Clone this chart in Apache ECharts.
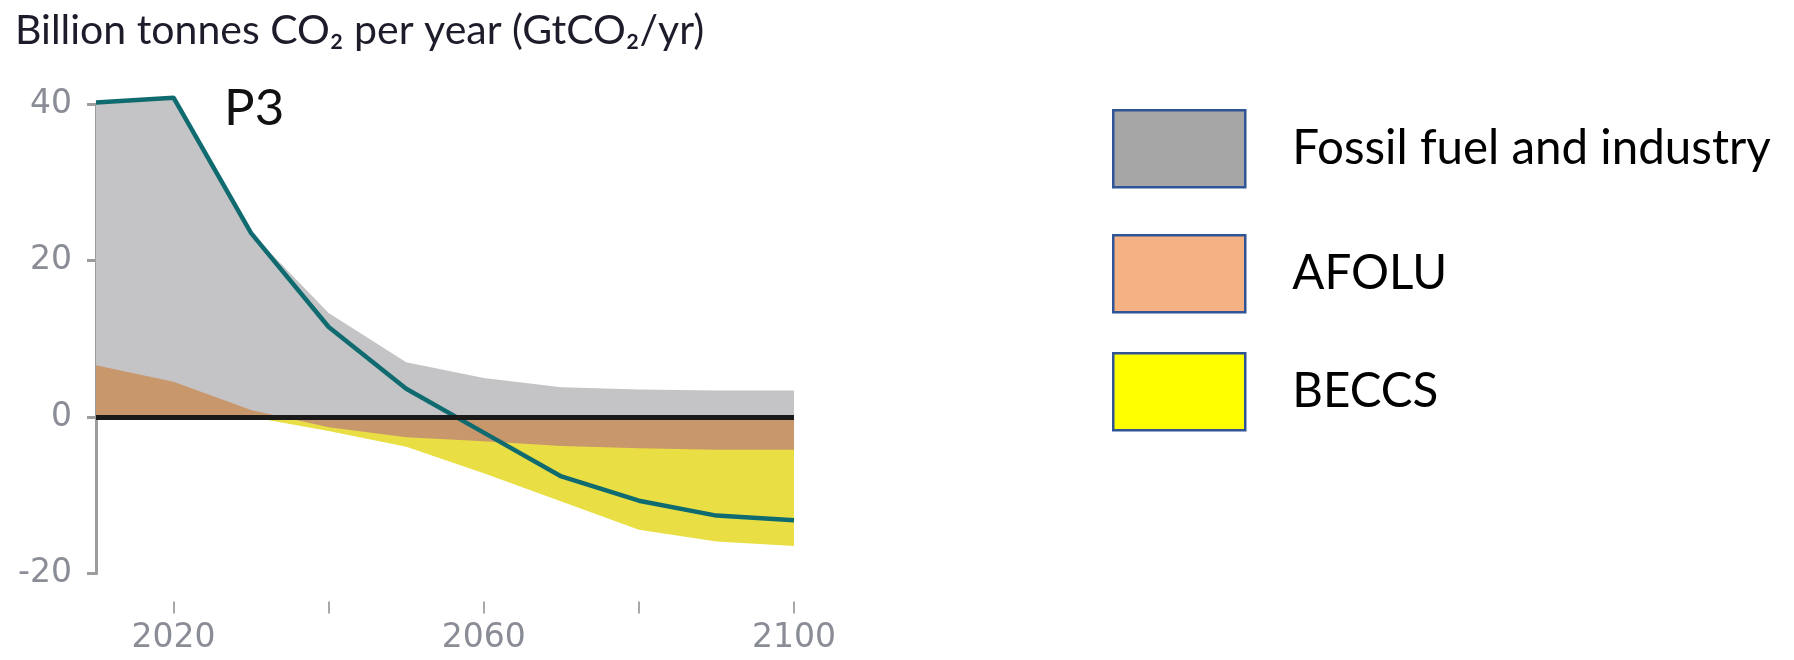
<!DOCTYPE html>
<html><head><meta charset="utf-8">
<script src="https://cdn.jsdelivr.net/npm/echarts@6/dist/echarts.min.js"></script>
<style>html,body{margin:0;padding:0;background:#fff}#c{width:1794px;height:660px}</style>
</head><body><div id="c"></div>
<script>
// ---- data ----
const years = [2010, 2020, 2030, 2040, 2050, 2060, 2070, 2080, 2090, 2100];
const fossilTop = [40.0, 40.8, 23.5, 13.3, 7.0, 5.0, 3.8, 3.5, 3.4, 3.4];      // upper edge of grey area
const afolu = [6.6, 4.5, 0.9, -1.3, -2.6, -3.1, -3.7, -4.0, -4.2, -4.2];       // AFOLU band edge
const beccsBottom = [0, 0, 0, -1.8, -3.8, -7.2, -10.8, -14.4, -15.9, -16.5];  // lower edge of BECCS band
const netEmissions = [40.2, 40.8, 23.5, 11.5, 3.6, -2.0, -7.6, -10.7, -12.6, -13.2];
const xTickValues = [2020, 2040, 2060, 2080, 2100];
const xLabelValues = [2020, 2060, 2100];
const legendNames = ['Fossil fuel and industry', 'AFOLU', 'BECCS'];
const legendColors = ['#a6a6a6', '#f4b183', '#ffff00'];
const titleText = 'Billion tonnes CO\u2082 per year (GtCO\u2082/yr)';
const panelLabel = 'P3';

const pair = arr => years.map((y, i) => [y, arr[i]]);
const axisGray = '#9d9d9d';
const labelGray = '#8a8c96';
const legendTops = [104, 229, 347];

const legends = legendNames.map((name, i) => ({
  orient: 'vertical', left: 1107, top: legendTops[i],
  itemWidth: 132, itemHeight: 77, icon: 'rect', selectedMode: false,
  data: [{ name: name, itemStyle: { color: legendColors[i], borderColor: '#2f5597', borderWidth: 2.5 } }],
  textStyle: { fontFamily: 'Lato', fontSize: 47.5, color: '#000', padding: [0, 0, 0, 42] }
}));

const chart = echarts.init(document.getElementById('c'));
chart.setOption({
  animation: false,
  backgroundColor: '#fff',
  title: {
    text: titleText, left: 15, top: 10, padding: 0,
    textStyle: { fontFamily: 'Lato', fontSize: 41, fontWeight: 'normal', color: '#1c1c2a' }
  },
  graphic: [{
    type: 'text', left: 224, top: 83,
    style: { text: panelLabel, fontFamily: 'Lato', fontSize: 51, fill: '#111' }
  }],
  grid: { left: 96, right: 1000, top: 104, bottom: 86.5, containLabel: false },
  legend: legends,
  xAxis: {
    type: 'value', min: 2010, max: 2100, interval: 10, offset: 28,
    axisLine: { show: false, onZero: false },
    splitLine: { show: false },
    axisTick: { show: true, customValues: xTickValues, length: 12, lineStyle: { color: '#a8a8a8', width: 2 } },
    axisLabel: {
      customValues: xLabelValues, margin: 20, fontFamily: 'DejaVu Sans', fontSize: 33, color: labelGray,
      formatter: v => String(v)
    }
  },
  yAxis: {
    type: 'value', min: -20, max: 40, interval: 20,
    axisLine: { show: true, onZero: false, lineStyle: { color: axisGray, width: 3 } },
    axisTick: { show: true, length: 9, lineStyle: { color: axisGray, width: 3 } },
    splitLine: { show: false },
    axisLabel: { margin: 24, fontFamily: 'DejaVu Sans', fontSize: 33, color: labelGray }
  },
  series: [
    {
      name: legendNames[0], type: 'line', data: pair(fossilTop), showSymbol: false, clip: false, z: 1,
      lineStyle: { width: 0 }, itemStyle: { color: '#c4c4c6' }, areaStyle: { color: '#c4c4c6', opacity: 1 }
    },
    {
      name: legendNames[2], type: 'line', data: pair(beccsBottom), showSymbol: false, clip: false, z: 2,
      lineStyle: { width: 0 }, itemStyle: { color: '#e9df44' }, areaStyle: { color: '#e9df44', opacity: 1 }
    },
    {
      name: legendNames[1], type: 'line', data: pair(afolu), showSymbol: false, clip: false, z: 3,
      lineStyle: { width: 0 }, itemStyle: { color: '#c9976c' }, areaStyle: { color: '#c9976c', opacity: 1 },
      markLine: {
        silent: true, symbol: 'none', label: { show: false },
        lineStyle: { color: '#1a1a1a', width: 5, type: 'solid' },
        data: [{ yAxis: 0 }]
      }
    },
    {
      name: 'Net', type: 'line', data: pair(netEmissions), showSymbol: false, clip: false, z: 4,
      lineStyle: { color: '#0f6b70', width: 4.5 }, itemStyle: { color: '#0f6b70' }
    }
  ]
});
</script></body></html>
